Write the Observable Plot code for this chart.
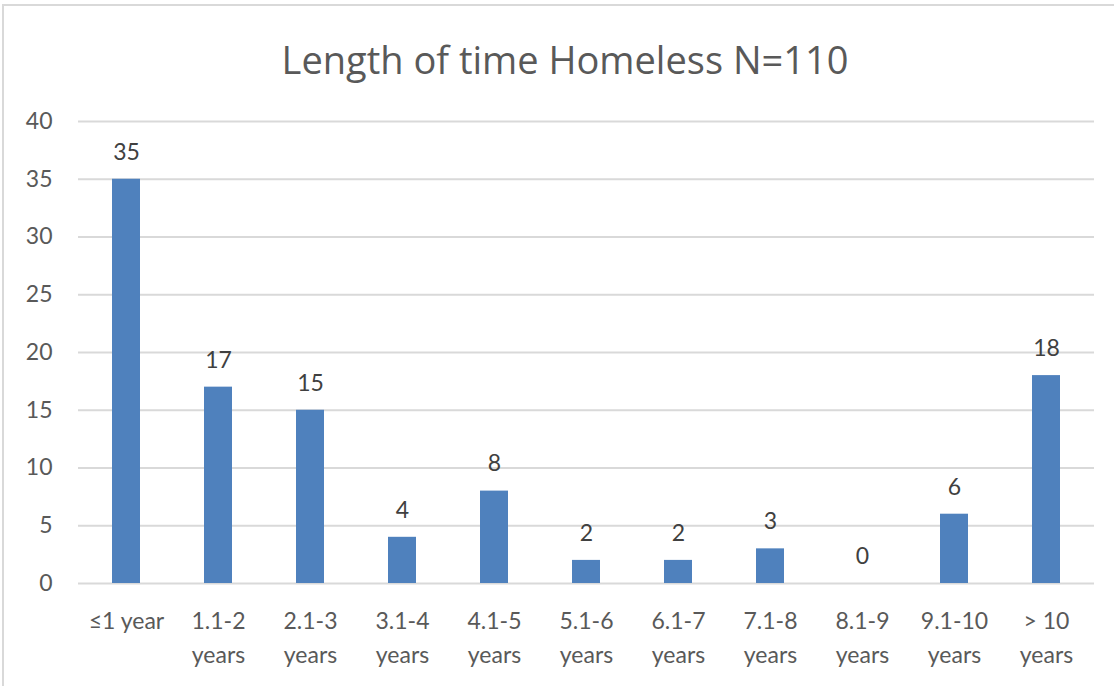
<!DOCTYPE html>
<html>
<head>
<meta charset="utf-8">
<script src="https://cdn.jsdelivr.net/npm/d3@7"></script>
<script src="https://cdn.jsdelivr.net/npm/@observablehq/plot@0.6"></script>
<style>
  html, body { margin: 0; padding: 0; background: #fff; }
  #wrap { position: relative; width: 1114px; height: 686px; overflow: hidden; font-family: Lato, "Open Sans", sans-serif; }
  #frame { position: absolute; left: 2px; top: 4px; width: 1130px; height: 700px; border: 2px solid #d9d9d9; box-sizing: border-box; }
  #title { position: absolute; left: 0; top: 33px; width: 1130px; text-align: center; font-size: 38px; color: #595959; font-family: "Open Sans", Lato, sans-serif; }
  #chart { position: absolute; left: 0; top: 0; }
</style>
</head>
<body>
<div id="wrap">
  <div id="frame"></div>
  <div id="title">Length of time Homeless N=110</div>
  <div id="chart"></div>
</div>
<script>
const categories = ["≤1 year", "1.1-2 years", "2.1-3 years", "3.1-4 years", "4.1-5 years", "5.1-6 years", "6.1-7 years", "7.1-8 years", "8.1-9 years", "9.1-10 years", "> 10 years"];
const counts = [35, 17, 15, 4, 8, 2, 2, 3, 0, 6, 18];
const yTicks = [0, 5, 10, 15, 20, 25, 30, 35, 40];

const data = categories.map((c, i) => ({category: c, count: counts[i]}));

const chart = Plot.plot({
  width: 1114,
  height: 686,
  marginLeft: 78,
  marginRight: 20,
  marginTop: 121,
  marginBottom: 103,
  style: {fontFamily: "Lato, 'Open Sans', sans-serif", background: "transparent"},
  x: {domain: categories, paddingInner: 0.7, paddingOuter: 0.35, label: null},
  y: {domain: [0, 40], label: null},
  marks: [
    Plot.gridY(yTicks, {stroke: "#d9d9d9", strokeOpacity: 1, strokeWidth: 2}),
    Plot.axisY(yTicks, {tickSize: 0, tickPadding: 26, fontSize: 23, fill: "#595959", label: null}),
    Plot.axisX({tickSize: 0, tickPadding: 22, fontSize: 23, fill: "#595959", lineHeight: 1.45, label: null,
      tickFormat: d => d.replace(" years", "\nyears")}),
    Plot.barY(data, {x: "category", y: "count", fill: "#4f81bd"}),
    Plot.text(data, {x: "category", y: "count", text: d => String(d.count), dy: -27, fontSize: 23, fill: "#404040"})
  ]
});
document.getElementById("chart").appendChild(chart);
</script>
</body>
</html>
